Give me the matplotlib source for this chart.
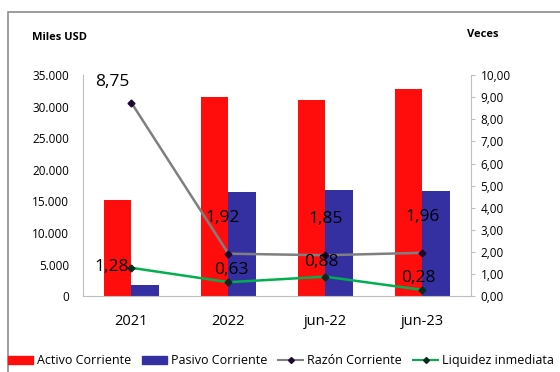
import numpy as np
import matplotlib
matplotlib.use("Agg")
import matplotlib.pyplot as plt
from matplotlib.patches import Rectangle, Patch
from matplotlib.lines import Line2D

# datos
periodos = ["2021", "2022", "jun-22", "jun-23"]
activo_corriente = [15200, 31500, 31050, 32800]
pasivo_corriente = [1750, 16450, 16800, 16650]
razon_corriente = [8.75, 1.92, 1.85, 1.96]
liquidez_inmediata = [1.28, 0.63, 0.88, 0.28]

plt.rcParams['font.family'] = ['Open Sans', 'DejaVu Sans']

fig = plt.figure(figsize=(5.6, 3.72), dpi=100)
ax = fig.add_axes([0.148, 0.204, 0.693, 0.594])

x = np.arange(len(periodos))
w = 0.28
ax.bar(x - w / 2, activo_corriente, w, color="#FF0D0D", label="Activo Corriente")
ax.bar(x + w / 2, pasivo_corriente, w, color="#3530A2", label="Pasivo Corriente")
ax.set_xlim(-0.5, 3.5)
ax.set_ylim(0, 35000)
ax.set_yticks(range(0, 35001, 5000))
ax.set_yticklabels(["0"] + [f"{v // 1000}.000" for v in range(5000, 35001, 5000)], fontsize=8.5)
ax.set_xticks(x)
ax.set_xticklabels(periodos, fontsize=10.5)
ax.tick_params(axis="x", length=0, pad=13)
ax.tick_params(axis="y", length=0, pad=10)
for s in ["top", "right"]:
    ax.spines[s].set_visible(False)
ax.spines["left"].set_color("#BFBFBF")
ax.spines["bottom"].set_color("#BFBFBF")

ax2 = ax.twinx()
ax2.plot(x, razon_corriente, color="#7F7F7F", lw=1.8, marker="D", ms=3.5,
         mfc="#1A0A30", mec="#1A0A30")
ax2.plot(x, liquidez_inmediata, color="#00B050", lw=1.8, marker="D", ms=3.5,
         mfc="#0A2A20", mec="#0A2A20")
ax2.set_ylim(0, 10)
ax2.set_yticks(np.arange(0, 10.01, 1))
ax2.set_yticklabels([f"{v:.2f}".replace(".", ",") for v in np.arange(0, 10.01, 1)], fontsize=8.5)
ax2.tick_params(axis="y", length=3, color="#BFBFBF", pad=4)
for s in ["top", "left", "bottom"]:
    ax2.spines[s].set_visible(False)
ax2.spines["right"].set_color("#BFBFBF")

def fmt(v):
    return f"{v:.2f}".replace(".", ",")

# etiquetas
offs_r = [(-0.2, 0.95), (-0.06, 1.6), (0.0, 1.65), (0.0, 1.6)]
for i, v in enumerate(razon_corriente):
    ax2.text(x[i] + offs_r[i][0], v + offs_r[i][1], fmt(v), fontsize=12.5, ha="center", va="center")
offs_l = [(-0.2, 0.05), (0.03, 0.55), (-0.04, 0.65), (-0.04, 0.55)]
for i, v in enumerate(liquidez_inmediata):
    ax2.text(x[i] + offs_l[i][0], v + offs_l[i][1], fmt(v), fontsize=12.5, ha="center", va="center")

fig.text(0.107, 0.898, "Miles USD", fontsize=8, fontweight="bold", ha="center", va="center")
fig.text(0.862, 0.906, "Veces", fontsize=8, fontweight="bold", ha="center", va="center")

fig.patches.append(Rectangle((8 / 560, -0.1), 1.2, 1 - 12 / 372 + 0.1, transform=fig.transFigure,
                             fill=False, edgecolor="#8C8C8C", lw=1.2))

handles = [Patch(color="#FF0D0D"), Patch(color="#3530A2"),
           Line2D([], [], color="#7F7F7F", marker="D", ms=3, mfc="#1A0A30", mec="#1A0A30"),
           Line2D([], [], color="#00B050", marker="D", ms=3, mfc="#0A2A20", mec="#0A2A20")]
labels = ["Activo Corriente", "Pasivo Corriente", "Razón Corriente", "Liquidez inmediata"]
fig.legend(handles, labels, loc="center left", bbox_to_anchor=(0.005, 0.03), ncol=4, frameon=False,
           fontsize=9, handlelength=2.0, handletextpad=0.3, columnspacing=0.9, borderaxespad=0)

fig.savefig("out.png", dpi=100)
